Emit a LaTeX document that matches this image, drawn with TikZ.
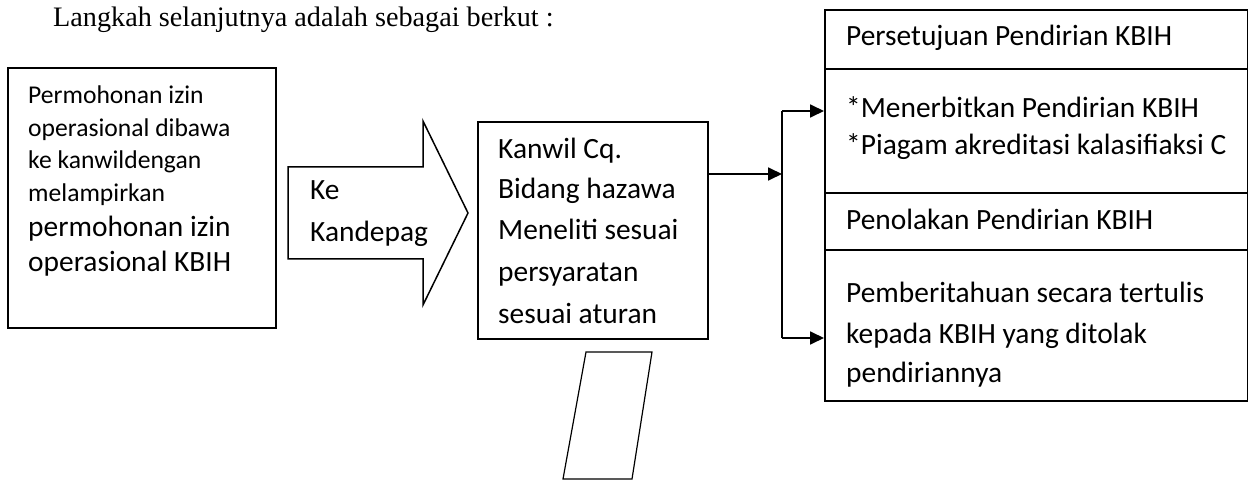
\documentclass[tikz,border=0pt]{standalone}
\usepackage{fontspec}
\setmainfont{Liberation Serif}
\newfontfamily\carl{Carlito}
\usetikzlibrary{arrows.meta}
\tikzset{
  box/.style={draw, line width=1.8pt, rectangle, inner sep=0pt, anchor=north west},
  txt/.style={anchor=base west, inner sep=0pt, font=\carl\fontsize{29.4}{35}\selectfont},
  smalltxt/.style={anchor=base west, inner sep=0pt, font=\carl\fontsize{25.6}{31}\selectfont},
  conn/.style={line width=1.8pt},
  arr/.style={line width=1.8pt, -{Triangle[length=14pt,width=13pt]}},
}
\begin{document}
\begin{tikzpicture}[x=1pt,y=-1pt]
\useasboundingbox (0,0) rectangle (1248,481);
% title
\node[anchor=base west, inner sep=0pt, font=\fontsize{28.2}{34}\selectfont] (title) at (53,27) {Langkah selanjutnya adalah sebagai berkut :};
% left box
\node[box, minimum width=268pt, minimum height=260pt] (left) at (7,67) {};
\foreach \t/\y [count=\i] in {Permohonan izin/104, operasional dibawa/137, ke kanwildengan/169, melampirkan/202}
  \node[smalltxt] (left-\i) at (28,\y) {\t};
\foreach \t/\y [count=\i] in {permohonan izin/237, operasional KBIH/272}
  \node[txt] (leftb-\i) at (28,\y) {\t};
% block arrow
\draw[line width=1.5pt, line join=miter] (288,167) -- (423,167) -- (423,121) -- (468,213) -- (423,305) -- (423,259) -- (288,259) -- cycle;
\node[txt] (ke-1) at (310,200) {Ke};
\node[txt] (ke-2) at (310,242) {Kandepag};
% middle box
\node[box, minimum width=230pt, minimum height=217pt] (mid) at (477,121) {};
\foreach \t/\y [count=\i] in {Kanwil Cq./159, Bidang hazawa/199, Meneliti sesuai/240, persyaratan/282, sesuai aturan/323}
  \node[txt] (mid-\i) at (498,\y) {\t};
% parallelogram
\draw[line width=1.2pt] (586,352) -- (652,352) -- (632,479) -- (563,479) -- cycle;
% right boxes
\node[box, minimum width=423pt, minimum height=59pt] (r1) at (824,9) {};
\node[box, minimum width=423pt, minimum height=124pt] (r2) at (824,68) {};
\node[box, minimum width=423pt, minimum height=57pt] (r3) at (824,192) {};
\node[box, minimum width=423pt, minimum height=151pt] (r4) at (824,249) {};
\node[txt] (r1txt) at (846,46) {Persetujuan Pendirian KBIH};
\node[txt] (r2txt-1) at (846,118) {*Menerbitkan Pendirian KBIH};
\node[txt] (r2txt-2) at (846,155) {*Piagam akreditasi kalasifiaksi C};
\node[txt] (r3txt) at (846,230) {Penolakan Pendirian KBIH};
\foreach \t/\y [count=\i] in {Pemberitahuan secara tertulis/302, kepada KBIH yang ditolak/343, pendiriannya/382}
  \node[txt] (r4txt-\i) at (846,\y) {\t};
% connectors
\coordinate (jn) at (782,174);
\coordinate (jtop) at (782,111);
\coordinate (jbot) at (782,338);
\draw[arr] (mid.east |- jn) -- (jn);
\draw[conn] (jtop) -- (jbot);
\draw[arr] (jtop) -- (r2.west |- jtop);
\draw[arr] (jbot) -- (r4.west |- jbot);
\end{tikzpicture}
\end{document}
